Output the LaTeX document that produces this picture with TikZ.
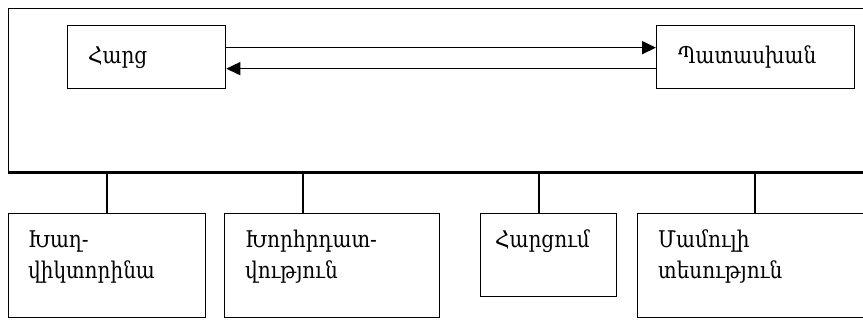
\documentclass[tikz,border=0pt]{standalone}
\usepackage{fontspec}
\setmainfont{DejaVu Serif}[FakeStretch=0.87]
\usetikzlibrary{arrows.meta}
\begin{document}
\begin{tikzpicture}[x=1pt,y=-1pt,
  box/.style={draw, line width=1.3pt, inner sep=0, anchor=north west},
  lbl/.style={anchor=base west, inner sep=0, align=left, font=\fontsize{23}{31}\selectfont},
  arr/.style={line width=1.7pt, -{Triangle[length=14pt,width=13pt]}},
  link/.style={line width=1.2pt}]
\useasboundingbox (0,0) rectangle (863,320);
\clip (0,0) rectangle (863,320);
% main frame
\node[box, minimum width=900, minimum height=163] (main) at (8,8) {};
\draw[line width=2.6pt] (main.south west) -- (main.south east);
% top boxes
\node[box, minimum width=158, minimum height=63] (q) at (67,25) {};
\node[box, minimum width=198, minimum height=63] (a) at (656,25) {};
\node[lbl] (qt) at (88,64) {Հարց};
\node[lbl] (at) at (678,64) {Պատասխան};
\draw[arr] ([yshift=9.5pt]q.east) -- ([yshift=9.5pt]a.west);
\draw[arr] ([yshift=-11.5pt]a.west) -- ([yshift=-11.5pt]q.east);
% bottom boxes
\node[box, minimum width=197, minimum height=104] (b1) at (8,213) {};
\node[box, minimum width=215, minimum height=104] (b2) at (224,213) {};
\node[box, minimum width=136, minimum height=83] (b3) at (480,213) {};
\node[box, minimum width=250, minimum height=104] (b4) at (637,213) {};
\node[lbl] (t1) at (28,279) {Խաղ-\\վիկտորինա};
\node[lbl] (t2) at (245,279) {Խորհրդատ-\\վություն};
\node[lbl] (t3) at (495,248) {Հարցում};
\node[lbl] (t4) at (658,279) {Մամուլի\\տեսություն};
% links
\coordinate (c1) at (107,171);
\coordinate (c2) at (303,171);
\coordinate (c3) at (539,171);
\coordinate (c4) at (755,171);
\draw[link] (c1) -- (c1 |- b1.north);
\draw[link] (c2) -- (c2 |- b2.north);
\draw[link] (c3) -- (c3 |- b3.north);
\draw[link] (c4) -- (c4 |- b4.north);
\end{tikzpicture}
\end{document}
